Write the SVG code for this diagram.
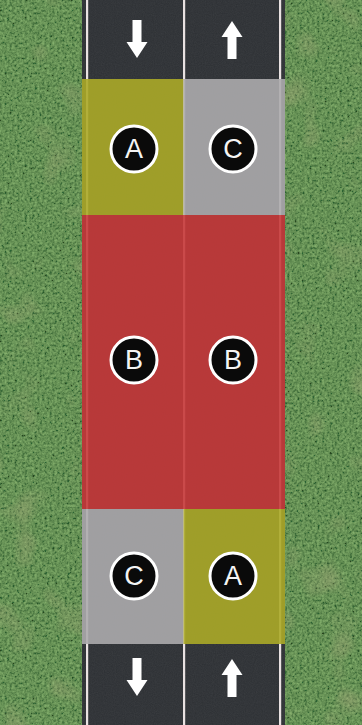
<svg xmlns="http://www.w3.org/2000/svg" width="362" height="725" viewBox="0 0 362 725">
<defs>
<filter id="grass" x="0" y="0" width="100%" height="100%">
<feTurbulence type="fractalNoise" baseFrequency="0.4" numOctaves="3" seed="4" result="n"/>
<feColorMatrix in="n" type="matrix" values="0.9 0 0 0 -0.2  1.2 0 0 0 -0.2  0.6 0 0 0 -0.1  0 0 0 0 1"/>
</filter>
<filter id="patches" x="0" y="0" width="100%" height="100%">
<feTurbulence type="fractalNoise" baseFrequency="0.025" numOctaves="2" seed="9" result="m"/>
<feColorMatrix in="m" type="matrix" values="0 0 0 0 0.45  0 0 0 0 0.40  0 0 0 0 0.22  0 0 0 2.4 -1.35"/>
</filter>
<filter id="asphalt" x="0" y="0" width="100%" height="100%">
<feTurbulence type="fractalNoise" baseFrequency="0.9" numOctaves="2" seed="2" result="a"/>
<feColorMatrix in="a" type="matrix" values="0 0 0 0 0.5  0 0 0 0 0.5  0 0 0 0 0.5  0 0 0 0.1 0"/>
</filter>
<g id="downArrow"><path d="M-4.5,-19 H4.5 V3 H10.5 L0,19 L-10.5,3 H-4.5 Z" fill="#ffffff"/></g>
<g id="upArrow"><path d="M-4.5,19 H4.5 V-3 H10.5 L0,-19 L-10.5,-3 H-4.5 Z" fill="#ffffff"/></g>
</defs>
<style>
.lbl{font-family:"Liberation Sans",Arial,sans-serif;font-size:27px;fill:#f4f4f4;text-anchor:middle;dominant-baseline:central}
.badge{fill:#0a0a0a;stroke:#ffffff;stroke-width:3}
.line{fill:#e9e2e2}
</style>
<!-- grass -->
<rect x="0" y="0" width="362" height="725" fill="#4a7d36"/>
<rect x="0" y="0" width="362" height="725" filter="url(#grass)" opacity="0.45"/>
<rect x="0" y="0" width="362" height="725" filter="url(#patches)" opacity="0.5"/>
<!-- road -->
<rect x="82" y="0" width="203" height="725" fill="#2c2f33"/>
<rect x="82" y="0" width="203" height="725" filter="url(#asphalt)"/>
<rect class="line" x="86" y="0" width="2.2" height="725"/>
<rect class="line" x="183" y="0" width="2.2" height="725"/>
<rect class="line" x="279" y="0" width="2.2" height="725"/>
<!-- zones -->
<g id="zone-top-left"><rect x="82" y="79" width="101.5" height="136" fill="#abaa28" opacity="0.9"/></g>
<g id="zone-top-right"><rect x="183.5" y="79" width="101.5" height="136" fill="#acabad" opacity="0.9"/></g>
<g id="zone-middle"><rect x="82" y="215" width="203" height="294" fill="#c73a3a" opacity="0.9"/></g>
<g id="zone-bottom-left"><rect x="82" y="509" width="101.5" height="135" fill="#acabad" opacity="0.9"/></g>
<g id="zone-bottom-right"><rect x="183.5" y="509" width="101.5" height="135" fill="#abaa28" opacity="0.9"/></g>
<!-- arrows -->
<use href="#downArrow" x="137" y="39"/>
<use href="#upArrow" x="232" y="40"/>
<use href="#downArrow" x="137" y="677"/>
<use href="#upArrow" x="232" y="678"/>
<!-- badges -->
<g id="badge-A-top"><circle class="badge" cx="134" cy="149" r="23"/><text class="lbl" x="134" y="149">A</text></g>
<g id="badge-C-top"><circle class="badge" cx="233" cy="149" r="23"/><text class="lbl" x="233" y="149">C</text></g>
<g id="badge-B-left"><circle class="badge" cx="134" cy="360" r="23"/><text class="lbl" x="134" y="360">B</text></g>
<g id="badge-B-right"><circle class="badge" cx="233" cy="360" r="23"/><text class="lbl" x="233" y="360">B</text></g>
<g id="badge-C-bottom"><circle class="badge" cx="134" cy="576" r="23"/><text class="lbl" x="134" y="576">C</text></g>
<g id="badge-A-bottom"><circle class="badge" cx="233" cy="576" r="23"/><text class="lbl" x="233" y="576">A</text></g>
</svg>
